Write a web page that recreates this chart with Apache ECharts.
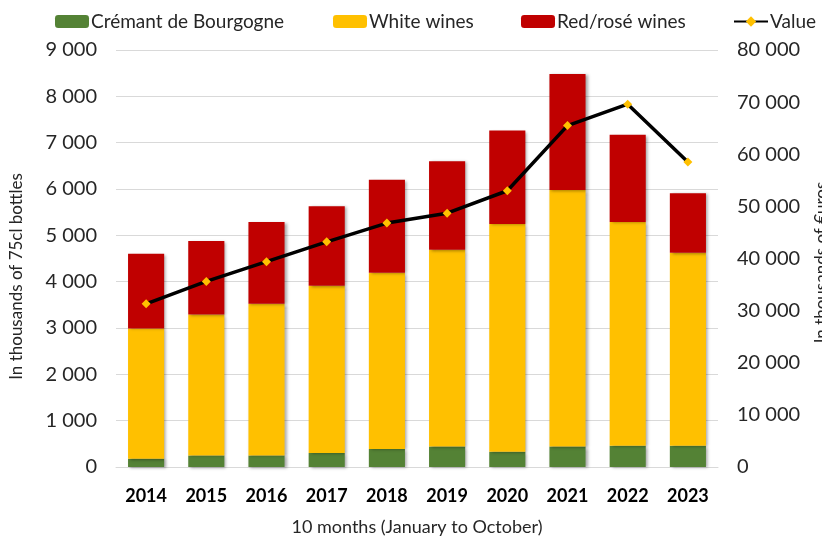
<!DOCTYPE html>
<html>
<head>
<meta charset="utf-8">
<script src="https://cdn.jsdelivr.net/npm/echarts@6/dist/echarts.min.js"></script>
<style>html,body{margin:0;padding:0;background:#fff;overflow:hidden}#c{width:822px;height:537px}</style>
</head>
<body>
<div id="c"></div>
<script>
const years = ['2014','2015','2016','2017','2018','2019','2020','2021','2022','2023'];
const cremant = [180, 250, 250, 300, 390, 440, 330, 440, 460, 460];
const white = [2810, 3040, 3275, 3610, 3800, 4250, 4915, 5540, 4830, 4165];
const redRose = [1610, 1590, 1765, 1720, 2010, 1910, 2015, 2500, 1880, 1285];
const value = [31300, 35600, 39400, 43200, 46800, 48700, 53000, 65500, 69600, 58500];

const F = 'Lato, "Open Sans", sans-serif';
const chart = echarts.init(document.getElementById('c'), null, {width:822, height:537});
const barShadow = {shadowColor:'rgba(0,0,0,0.35)', shadowBlur:3, shadowOffsetX:2, shadowOffsetY:1};
function lg(name, left){
  return {data:[name], left:left, top:12, padding:0, itemWidth:34, itemHeight:13, itemGap:0,
    textStyle:{fontFamily:F, fontSize:19, color:'#262626', padding:[0,0,0,-3]}};
}
const fmt = v=>v>=1000?Math.floor(v/1000)+' '+String(v%1000).padStart(3,'0'):String(v);
chart.setOption({
  animation:false,
  legend:[lg('Crémant de Bourgogne',55), lg('White wines',333), lg('Red/rosé wines',521), lg('Value',733)],
  grid:{left:116, right:104, top:50, bottom:70, outerBoundsMode:'none', containLabel:false},
  xAxis:{type:'category', data:years,
    axisLine:{show:true, lineStyle:{color:'#d9d9d9'}}, axisTick:{show:false},
    axisLabel:{fontFamily:F, fontSize:18, fontWeight:'bold', color:'#000', margin:20},
    name:'10 months (January to October)', nameLocation:'middle', nameGap:51,
    nameTextStyle:{fontFamily:F, fontSize:18, color:'#262626'}},
  yAxis:[
    {type:'value', min:0, max:9000, interval:1000,
     axisLabel:{fontFamily:F, fontSize:20, color:'#262626', margin:19, formatter:fmt},
     splitLine:{lineStyle:{color:'#d9d9d9'}}, axisLine:{show:false}, axisTick:{show:false},
     name:'In thousands of 75cl bottles', nameLocation:'middle', nameGap:91, nameRotate:90,
     nameTextStyle:{fontFamily:F, fontSize:17, color:'#262626', padding:[0,36,0,0]}},
    {type:'value', min:0, max:80000, interval:10000, position:'right',
     axisLabel:{fontFamily:F, fontSize:20, color:'#262626', margin:19, formatter:fmt},
     splitLine:{show:false}, axisLine:{show:false}, axisTick:{show:false},
     name:'In thousands of €uros', nameLocation:'middle', nameGap:95, nameRotate:90,
     nameTextStyle:{fontFamily:F, fontSize:17, color:'#262626', padding:[0,8,0,0]}}
  ],
  series:[
    {name:'Crémant de Bourgogne', type:'bar', stack:'v', data:cremant, barCategoryGap:'40%',
     itemStyle:Object.assign({color:'#548235'}, barShadow)},
    {name:'White wines', type:'bar', stack:'v', data:white,
     itemStyle:Object.assign({color:'#FFC000'}, barShadow)},
    {name:'Red/rosé wines', type:'bar', stack:'v', data:redRose,
     itemStyle:Object.assign({color:'#C00000'}, barShadow)},
    {name:'Value', type:'line', yAxisIndex:1, data:value, symbol:'diamond', symbolSize:9,
     lineStyle:{color:'#000', width:3.5}, itemStyle:{color:'#FFC000', borderWidth:0}, z:5}
  ]
});
</script>
</body>
</html>
